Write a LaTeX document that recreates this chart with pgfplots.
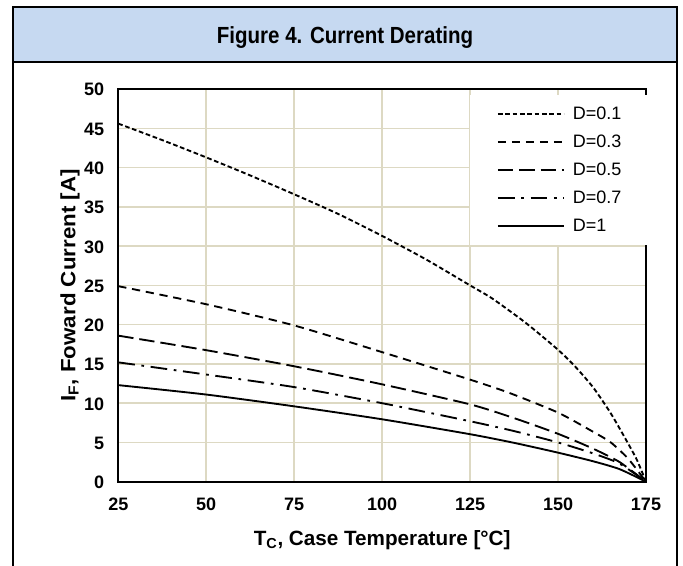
\documentclass[border=0pt]{standalone}
\usepackage{fontspec}
\setmainfont{Liberation Sans}
\usepackage{graphicx}
\usepackage{pgfplots}
\usepackage{pgfplotstable}
\pgfplotsset{compat=1.18}

\definecolor{gridtan}{RGB}{221,217,195}
\definecolor{titlebar}{RGB}{198,217,241}

% derating curves
\pgfplotstableread{
T I
25 45.6
37.5 43.5
50 41.3
62.5 39.0
75 36.6
87.5 34.1
100 31.3
112.5 28.3
125 25.0
131.4 23.3
140.9 20.2
150 16.8
155 14.6
160 12.0
165 8.7
170 4.8
172.5 2.7
175 0
}\dA
\pgfplotstableread{
T I
25 24.9
50 22.6
75 19.9
100 16.5
125 13.0
136.2 11.3
150 8.8
159.8 6.4
165 5.0
170 2.9
175 0
}\dB
\pgfplotstableread{
T I
25 18.6
50 16.75
75 14.7
100 12.4
125 9.85
137.5 8.1
150 6.1
160 4.2
167.5 2.5
175 0
}\dC
\pgfplotstableread{
T I
25 15.2
50 13.65
75 12.05
100 10.0
125 7.7
137.5 6.45
150 5.0
160 3.6
167.5 2.3
175 0
}\dD
\pgfplotstableread{
T I
25 12.3
50 11.1
75 9.6
100 7.95
125 6.05
137.5 4.95
150 3.7
160 2.6
167.5 1.6
175 0
}\dE

\begin{document}
\begin{tikzpicture}
\path[use as bounding box] (0,0) rectangle (512.25pt,424.5pt);
% title bar and frame
\fill[titlebar] (9.75pt,378pt) rectangle (507.75pt,419.25pt);
\draw[line width=1.5pt] (9.75pt,378pt) -- (507.75pt,378pt);
\draw[line width=1.5pt] (9.75pt,0pt) -- (9.75pt,419.25pt) -- (507.75pt,419.25pt) -- (507.75pt,0pt);
\node[font=\bfseries\fontsize{17.5}{20}\selectfont] at (258.75pt,396.5pt) {\scalebox{0.88}[1]{Figure 4. Current Derating}};

\begin{axis}[
    at={(88.7pt,63.2pt)}, anchor=south west,
    scale only axis, width=395.8pt, height=294.5pt,
    xmin=25, xmax=175, ymin=0, ymax=50,
    xtick={25,50,...,175}, ytick={0,5,...,50},
    major tick length=0pt,
    grid=major,
    major grid style={gridtan, line width=1.1pt},
    axis line style={black, line width=1.3pt},
    tick label style={font=\bfseries\fontsize{13.5}{16}\selectfont},
    typeset ticklabels with strut,
    /pgf/number format/assume math mode=true,
    xticklabel style={yshift=-7pt},
    yticklabel style={xshift=-7pt, yshift=-2pt},
    xlabel={T\textsubscript{C}, Case Temperature [°C]},
    ylabel={\scalebox{1.08}[1]{I\textsubscript{F}, Foward Current [A]}},
    label style={font=\bfseries\fontsize{15.5}{18}\selectfont},
    xlabel style={at={(axis description cs:0.5,-0.148)}, anchor=center},
    ylabel style={at={(axis description cs:-0.0915,0.5)}, anchor=center},
    legend cell align=left,
    legend style={at={(axis description cs:0.6665,0.9847)}, anchor=north west,
        fill=white, draw=none, inner xsep=20pt, inner ysep=8pt,
        row sep=9pt, column sep=6pt,
        font=\fontsize{13.5}{16}\selectfont,
        nodes={inner sep=0pt, text height=10pt, text depth=2pt}},
    legend image code/.code={\draw[#1] (0pt,0pt) -- (49.5pt,0pt);},
    every axis plot/.append style={black, line width=1.4pt, line cap=butt, smooth, tension=0.4},
]
\addplot[dash pattern=on 3.5pt off 2pt] table[x=T,y=I] {\dA};
\addlegendentry{D=0.1}
\addplot[dash pattern=on 6.2pt off 4.3pt] table[x=T,y=I] {\dB};
\addlegendentry{D=0.3}
\addplot[dash pattern=on 11.5pt off 4.5pt] table[x=T,y=I] {\dC};
\addlegendentry{D=0.5}
\addplot[dash pattern=on 12.5pt off 5pt on 2pt off 5pt] table[x=T,y=I] {\dD};
\addlegendentry{D=0.7}
\addplot[solid] table[x=T,y=I] {\dE};
\addlegendentry{D=1}
\end{axis}
\end{tikzpicture}
\end{document}
